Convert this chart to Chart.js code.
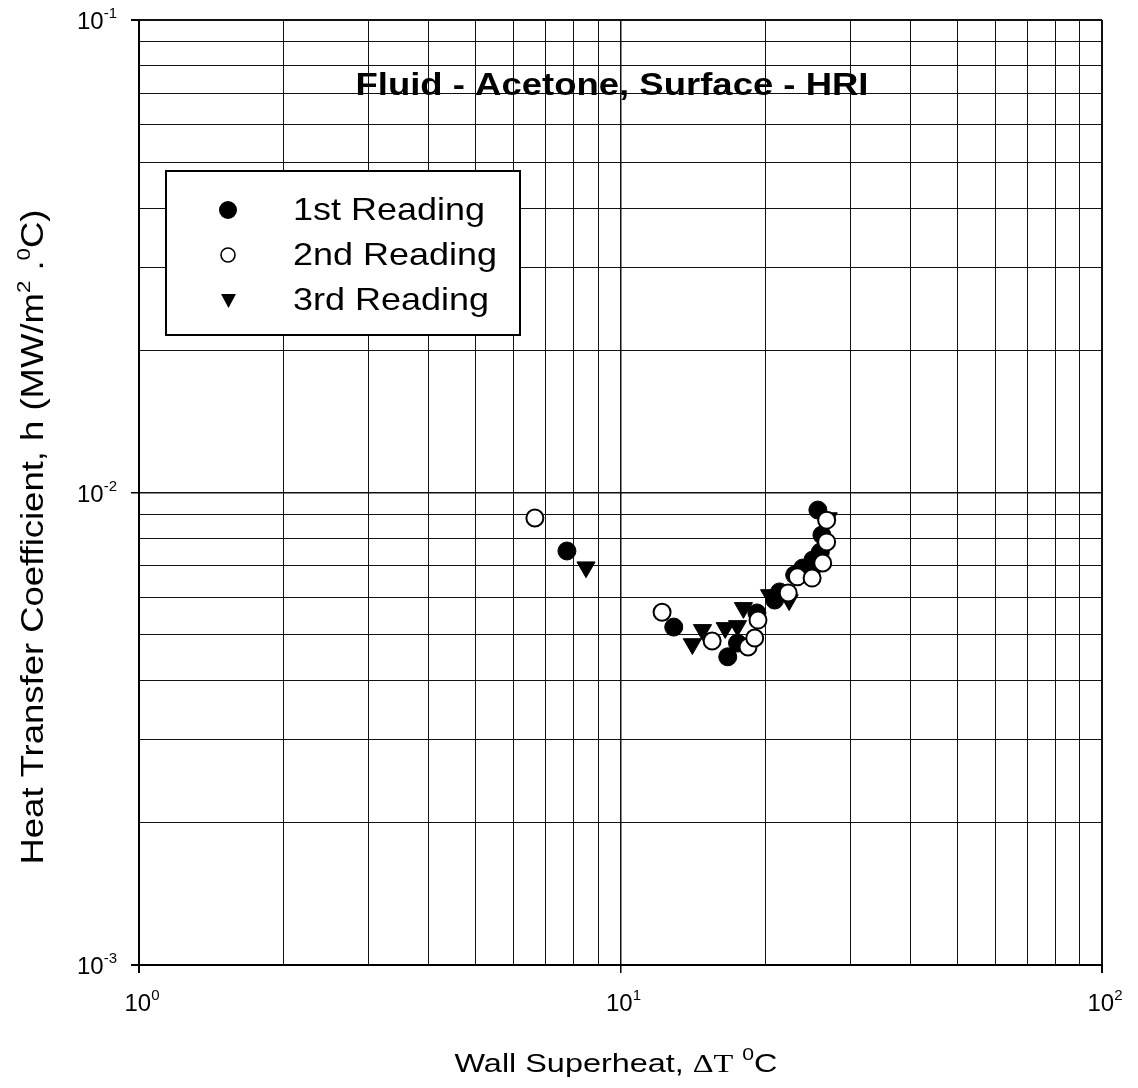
<!DOCTYPE html>
<html>
<head>
<meta charset="utf-8">
<script src="https://cdn.jsdelivr.net/npm/chart.js@4.4.0/dist/chart.umd.min.js"></script>
<style>
html, body { margin: 0; padding: 0; background: #fff; }
#wrap { width: 1138px; height: 1088px; }
</style>
</head>
<body>
<div id="wrap"><canvas id="chart-h" width="1138" height="1088"></canvas></div>
<script>
// --- data (x = wall superheat degC, y = h MW/m2.C) ---
const firstX  = [7.74, 12.9, 16.7, 17.5, 19.2, 20.9, 21.4, 23.0, 23.9, 25.1, 26.0, 26.2, 25.7];
const firstY  = [0.00752, 0.00519, 0.00449, 0.00480, 0.00556, 0.00592, 0.00616, 0.00669, 0.00692, 0.00720, 0.00748, 0.00813, 0.00918];
const secondX = [6.64, 12.2, 15.5, 18.4, 19.0, 19.3, 22.3, 23.3, 25.0, 26.3, 26.8, 26.8];
const secondY = [0.00883, 0.00558, 0.00485, 0.00471, 0.00492, 0.00537, 0.00613, 0.00663, 0.00659, 0.00709, 0.00786, 0.00874];
const thirdX  = [8.48, 14.8, 14.1, 16.5, 17.5, 18.0, 20.4, 22.4, 25.4, 27.0];
const thirdY  = [0.00695, 0.00512, 0.00478, 0.00517, 0.00522, 0.00570, 0.00607, 0.00592, 0.00686, 0.00883];

const seriesNames = ['1st Reading', '2nd Reading', '3rd Reading'];

// grid lines (log decades) and labelled ticks
const xGridVals = [1, 2, 3, 4, 5, 6, 7, 8, 9, 10, 20, 30, 40, 50, 60, 70, 80, 90, 100];
const yGridVals = [0.001, 0.002, 0.003, 0.004, 0.005, 0.006, 0.007, 0.008, 0.009,
                   0.01, 0.02, 0.03, 0.04, 0.05, 0.06, 0.07, 0.08, 0.09, 0.1];
const xLabelVals = [1, 10, 100];
const xLabelExp  = ['0', '1', '2'];
const yLabelVals = [0.1, 0.01, 0.001];
const yLabelExp  = ['-1', '-2', '-3'];

const chartTitle = 'Fluid - Acetone, Surface - HRI';

const SANS = '"Liberation Sans", Arial, sans-serif';
const SERIF = '"Liberation Serif", "Times New Roman", serif';

function toPoints(xs, ys) {
    return xs.map((x, i) => ({ x: x, y: ys[i] }));
}

function isDecade(v) {
    const l = Math.log10(v);
    return Math.abs(l - Math.round(l)) < 1e-9;
}

// text pieces: [text, font, dy]; stretched horizontally to fit a width if given
function richWidth(ctx, parts) {
    let w = 0;
    parts.forEach(p => { ctx.font = p[1]; w += ctx.measureText(p[0]).width; });
    return w;
}

function drawRich(ctx, parts, x, y, align, fitWidth) {
    const w = richWidth(ctx, parts);
    const sx = fitWidth ? fitWidth / w : 1;
    ctx.save();
    ctx.translate(x, y);
    ctx.scale(sx, 1);
    ctx.fillStyle = '#000';
    ctx.textAlign = 'left';
    ctx.textBaseline = 'alphabetic';
    let cx = align === 'center' ? -w / 2 : (align === 'right' ? -w : 0);
    parts.forEach(p => {
        ctx.font = p[1];
        ctx.fillText(p[0], cx, p[2] || 0);
        cx += ctx.measureText(p[0]).width;
    });
    ctx.restore();
}

function powParts(exp) {
    return [['10', '24px ' + SANS, 0], [exp, '15px ' + SANS, -11]];
}

const decorPlugin = {
    id: 'decor',
    afterDraw(chart) {
        const ctx = chart.ctx;
        const xs = chart.scales.x;
        const ys = chart.scales.y;
        const area = chart.chartArea;

        // tick labels as powers of ten
        xLabelVals.forEach((v, i) => {
            drawRich(ctx, powParts(xLabelExp[i]), xs.getPixelForValue(v) + 3, area.bottom + 46, 'center');
        });
        yLabelVals.forEach((v, i) => {
            drawRich(ctx, powParts(yLabelExp[i]), area.left - 22, ys.getPixelForValue(v) + 9, 'right');
        });

        // title inside plot
        drawRich(ctx, [[chartTitle, 'bold 31px ' + SANS, 0]], 612, 95, 'center', 513);

        // x axis title
        drawRich(ctx, [
            ['Wall Superheat, ', '26px ' + SANS, 0],
            ['\u0394T', '26px ' + SERIF, 0],
            [' ', '26px ' + SANS, 0],
            ['0', '17px ' + SANS, -12],
            ['C', '26px ' + SANS, 0]
        ], 616, 1072, 'center', 323);

        // y axis title
        ctx.save();
        ctx.translate(43, 537);
        ctx.rotate(-Math.PI / 2);
        drawRich(ctx, [
            ['Heat Transfer Coefficient, h (MW/m', '31px ' + SANS, 0],
            ['2', '19px ' + SANS, -13],
            [' .', '31px ' + SANS, 0],
            ['0', '19px ' + SANS, -13],
            ['C)', '31px ' + SANS, 0]
        ], 0, 0, 'center', 655);
        ctx.restore();

        // legend box
        ctx.save();
        ctx.fillStyle = '#fff';
        ctx.fillRect(166, 171, 354, 164);
        ctx.strokeStyle = '#000';
        ctx.lineWidth = 2;
        ctx.strokeRect(166, 171, 354, 164);
        ctx.restore();

        const rowY = [220, 265, 310];
        ctx.font = '32px ' + SANS;
        const fit = 192 / ctx.measureText(seriesNames[0]).width;
        seriesNames.forEach((name, i) => {
            ctx.font = '32px ' + SANS;
            drawRich(ctx, [[name, '32px ' + SANS, 0]], 293, rowY[i], 'left', ctx.measureText(name).width * fit);
        });
        // legend markers
        ctx.save();
        ctx.fillStyle = '#000';
        ctx.strokeStyle = '#000';
        ctx.beginPath();
        ctx.arc(228, rowY[0] - 10, 9, 0, Math.PI * 2);
        ctx.fill();
        ctx.beginPath();
        ctx.lineWidth = 1.6;
        ctx.arc(228, rowY[1] - 10, 7, 0, Math.PI * 2);
        ctx.stroke();
        ctx.beginPath();
        const ty = rowY[2] - 10;
        ctx.moveTo(221, ty - 6);
        ctx.lineTo(236, ty - 6);
        ctx.lineTo(228.5, ty + 8);
        ctx.closePath();
        ctx.fill();
        ctx.restore();
    }
};

function logAxis(gridVals, min, max, fitKey, fitSize) {
    return {
        type: 'logarithmic',
        min: min,
        max: max,
        afterBuildTicks: scale => { scale.ticks = gridVals.map(v => ({ value: v })); },
        afterFit: scale => { scale[fitKey] = fitSize; },
        ticks: { display: false, autoSkip: false },
        border: { display: true, color: '#000', width: 2 },
        grid: {
            color: '#111',
            lineWidth: c => (c.tick && (c.tick.value === min || c.tick.value === max)) ? 2 : (c.tick && isDecade(c.tick.value) ? 1.5 : 1),
            drawTicks: true,
            tickLength: 8,
            tickColor: c => (c.tick && isDecade(c.tick.value)) ? '#000' : 'rgba(0,0,0,0)'
        }
    };
}

new Chart(document.getElementById('chart-h'), {
    type: 'scatter',
    data: {
        datasets: [
            {
                label: seriesNames[0], data: toPoints(firstX, firstY), order: 2,
                pointStyle: 'circle', pointRadius: 9, backgroundColor: '#000', borderColor: '#000', borderWidth: 1
            },
            {
                label: seriesNames[1], data: toPoints(secondX, secondY), order: 0,
                pointStyle: 'circle', pointRadius: 8.5, backgroundColor: '#fff', borderColor: '#000', borderWidth: 2
            },
            {
                label: seriesNames[2], data: toPoints(thirdX, thirdY), order: 1,
                pointStyle: 'triangle', rotation: 180, pointRadius: 10.5, backgroundColor: '#000', borderColor: '#000', borderWidth: 1
            }
        ]
    },
    options: {
        responsive: false,
        animation: false,
        layout: { padding: { top: 20, right: 36, left: 0, bottom: 0 } },
        plugins: { legend: { display: false }, tooltip: { enabled: false } },
        scales: {
            x: logAxis(xGridVals, 1, 100, 'height', 123),
            y: logAxis(yGridVals, 0.001, 0.1, 'width', 139)
        }
    },
    plugins: [decorPlugin]
});
</script>
</body>
</html>
